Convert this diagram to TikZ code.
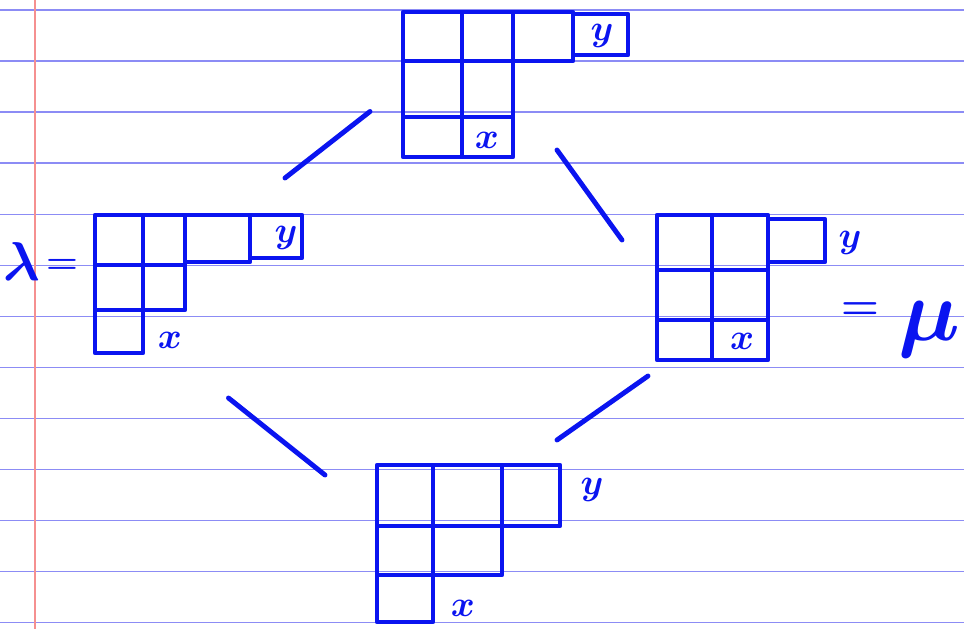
\documentclass[tikz,border=0pt]{standalone}
\usetikzlibrary{calc,fit}
\definecolor{ink}{HTML}{0A14F0}
\definecolor{rulecol}{HTML}{8C8CF5}
\definecolor{margincol}{HTML}{F59090}
\begin{document}
\begin{tikzpicture}[x=0.02cm,y=-0.02cm,
			ruled/.style={draw=rulecol,line width=0.8pt},
			cell/.style={draw=ink,line width=2.6pt,line cap=round,line join=round},
			box/.style={inner sep=0pt,outer sep=0pt},
			link/.style={draw=ink,line width=2.8pt,line cap=round},
			lab/.style={text=ink,font=\huge\boldmath}
			]
			\useasboundingbox (0,0) rectangle (964,629);
			\foreach \k in {0,...,12}
				\draw[ruled] (0,{10+51.05*\k}) -- (964,{10+51.05*\k});
			\draw[draw=margincol,line width=0.8pt] (35,0) -- (35,629);
			% top
			\foreach \a/\b/\c/\d in {403/12/462/61,462/12/513/61,513/12/573/61,573/14/628/55,
				403/61/462/117,462/61/513/117,403/117/462/157,462/117/513/157}
				\draw[cell] (\a,\b) rectangle (\c,\d);
			\node[box,fit={(403,12) (628,157)}] (top) {};
			\node[lab] (topy) at (602,36) {$y$};
			\node[lab] (topx) at (487,140) {$x$};
			% left
			\foreach \a/\b/\c/\d in {95/215/143/265,143/215/185/265,185/215/250/262,250/215/302/258,
				95/265/143/310,143/265/185/310,95/310/143/353}
				\draw[cell] (\a,\b) rectangle (\c,\d);
			\node[box,fit={(95,215) (302,353)}] (left) {};
			\node[lab] (lefty) at (286,238) {$y$};
			\node[lab] (leftx) at (170,340) {$x$};
			\node[lab,scale=1.5] (lam) at (22,262) {$\lambda$};
			\node[lab] (eql) at (62,266) {$=$};
			% right
			\foreach \a/\b/\c/\d in {657/215/712/270,712/215/768/270,768/219/825/262,
				657/270/712/320,712/270/768/320,657/320/712/360,712/320/768/360}
				\draw[cell] (\a,\b) rectangle (\c,\d);
			\node[box,fit={(657,215) (825,360)}] (right) {};
			\node[lab] (righty) at (850,243) {$y$};
			\node[lab] (rightx) at (742,341) {$x$};
			\node[lab,scale=1.2] (eqr) at (860,311) {$=$};
			\node[lab,scale=2.4,anchor=base east,inner sep=0pt] (mu) at (961,340) {$\mu$};
			% bottom
			\foreach \a/\b/\c/\d in {377/465/433/526,433/465/502/526,502/465/560/526,
				377/526/433/575,433/526/502/575,377/575/433/622}
				\draw[cell] (\a,\b) rectangle (\c,\d);
			\node[box,fit={(377,465) (560,622)}] (bot) {};
			\node[lab] (boty) at (592,490) {$y$};
			\node[lab] (botx) at (463,608) {$x$};
			\draw[link] ($(left.north east)+(-17,-37)$) -- ($(top.west)+(-33,27)$);
			\draw[link] ($(top.south east)+(-71,-7)$) -- ($(right.north west)+(-35,25)$);
			\draw[link] ($(left.south)+(30,45)$) -- ($(bot.north west)+(-52,10)$);
			\draw[link] ($(right.south west)+(-9,16)$) -- ($(bot.north east)+(-3,-25)$);
		\end{tikzpicture}
\end{document}
